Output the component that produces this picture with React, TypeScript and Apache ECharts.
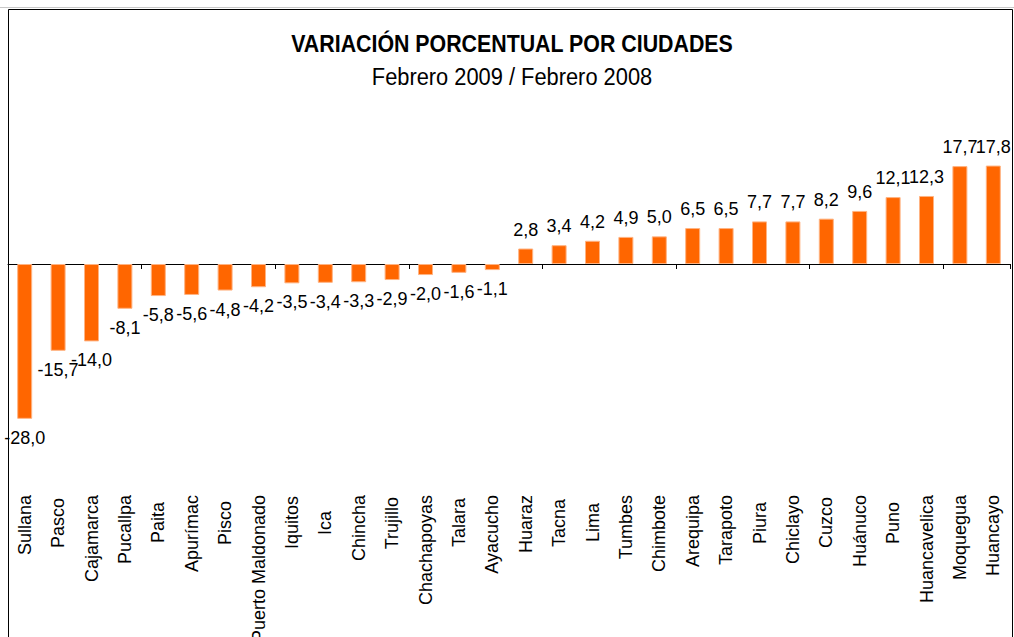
import React, { useEffect, useRef } from 'react';
import * as echarts from 'echarts';

const cities = [
  'Sullana', 'Pasco', 'Cajamarca', 'Pucallpa', 'Paita', 'Apurímac', 'Pisco', 'Puerto Maldonado',
  'Iquitos', 'Ica', 'Chincha', 'Trujillo', 'Chachapoyas', 'Talara', 'Ayacucho', 'Huaraz', 'Tacna',
  'Lima', 'Tumbes', 'Chimbote', 'Arequipa', 'Tarapoto', 'Piura', 'Chiclayo', 'Cuzco', 'Huánuco',
  'Puno', 'Huancavelica', 'Moquegua', 'Huancayo',
];
const variation = [
  -28.0, -15.7, -14.0, -8.1, -5.8, -5.6, -4.8, -4.2, -3.5, -3.4, -3.3, -2.9, -2.0, -1.6, -1.1,
  2.8, 3.4, 4.2, 4.9, 5.0, 6.5, 6.5, 7.7, 7.7, 8.2, 9.6, 12.1, 12.3, 17.7, 17.8,
];
const titleText = 'VARIACIÓN PORCENTUAL POR CIUDADES';
const subtitleText = 'Febrero 2009 / Febrero 2008';

export default function App() {
  const ref = useRef<HTMLDivElement>(null);
  useEffect(() => {
    const el = ref.current!;
    const chart = echarts.init(el, null, { renderer: 'svg' });
    const font = '"Liberation Sans", Arial, Helvetica, sans-serif';
    const canvas = document.createElement('canvas');
    const ctx = canvas.getContext('2d')!;
    ctx.font = `18px ${font}`;
    const rich: any = {};
    cities.forEach((c, i) => {
      const w = ctx.measureText(c).width;
      const pad = Math.max(0, Math.round(28 - w / 2));
      rich['p' + i] = { fontSize: 18, fontFamily: font, color: '#000', padding: [0, pad, 0, 0] };
    });

    chart.setOption({
      animation: false,
      backgroundColor: '#fff',
      grid: {
        left: 8, right: 4, top: 153.4, bottom: 207.1,
        containLabel: false, outerBoundsMode: 'none',
      },
      graphic: [
        { type: 'line', shape: { x1: 0, y1: 7.5, x2: 1014, y2: 7.5 }, style: { stroke: '#c8c8c8', lineWidth: 1 }, silent: true },
        { type: 'rect', shape: { x: 8.5, y: 9.5, width: 1004, height: 640 }, style: { fill: 'none', stroke: '#000', lineWidth: 1 }, silent: true },
        {
          type: 'text', x: 512, y: 44, scaleX: 0.89,
          style: { text: titleText, fontSize: 24, fontWeight: 'bold', fontFamily: font, fill: '#000', align: 'center', verticalAlign: 'middle' },
        },
        {
          type: 'text', x: 512, y: 77, scaleX: 0.91,
          style: { text: subtitleText, fontSize: 24, fontFamily: font, fill: '#000', align: 'center', verticalAlign: 'middle' },
        },
      ],
      xAxis: [
        {
          type: 'category', data: cities, position: 'bottom',
          axisLine: { show: false, onZero: false }, axisTick: { show: false },
          axisLabel: {
            interval: 0, rotate: 90, margin: 65,
            formatter: (v: string, i: number) => `{p${i}|${v}}`,
            rich,
          },
        },
        {
          type: 'category', data: cities, position: 'top',
          axisLine: { show: true, onZero: true, lineStyle: { color: '#000', width: 1 } },
          axisTick: { show: true, inside: true, length: 5, lineStyle: { color: '#000' } },
          axisLabel: { show: false },
        },
      ],
      yAxis: {
        type: 'value', min: -30, max: 20, show: false, splitLine: { show: false },
      },
      series: [
        {
          type: 'bar',
          xAxisIndex: 0,
          barWidth: 15,
          data: variation.map((v) => ({ value: v, label: { position: v >= 0 ? 'top' : 'bottom' } })),
          itemStyle: { color: '#ff6600', borderColor: '#ffb382', borderWidth: 1 },
          label: {
            show: true,
            distance: 10,
            fontSize: 18,
            fontFamily: font,
            color: '#000',
            formatter: (p: any) => Number(p.value).toFixed(1).replace('.', ','),
          },
        },
      ],
    });
    return () => chart.dispose();
  }, []);
  return (
    <div
      ref={ref}
      style={{ position: 'fixed', left: 0, top: 0, width: 1014, height: 637, background: '#fff' }}
    />
  );
}
